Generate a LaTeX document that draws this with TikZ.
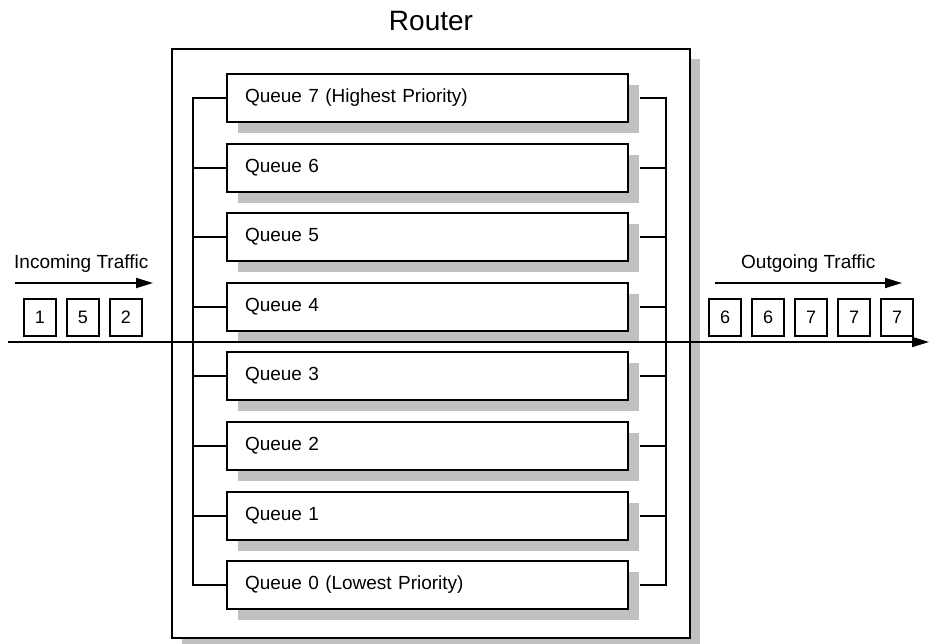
\documentclass[tikz,border=0pt]{standalone}
\usepackage{fontspec}
\setmainfont{Liberation Sans}
\usetikzlibrary{arrows.meta,shadows}
\definecolor{shgray}{HTML}{C0C0C0}
\begin{document}
\begin{tikzpicture}[x=1pt,y=-1pt,
  lw/.style={line width=1.8pt},
  qbox/.style={draw, lw, fill=white, minimum width=401pt, minimum height=48pt,
    text width=365pt, inner xsep=18pt, align=left, font=\fontsize{19}{22}\selectfont,
    drop shadow={shadow xshift=11pt, shadow yshift=-11pt, fill=shgray, opacity=1}},
  routerbox/.style={draw, line width=1.9pt, fill=white, minimum width=518pt, minimum height=589pt,
    inner sep=0pt, drop shadow={shadow xshift=10pt, shadow yshift=-10pt, fill=shgray, opacity=1}},
  tbox/.style={draw, line width=1.4pt, minimum width=32pt, minimum height=37pt, inner sep=0pt,
    font=\fontsize{18}{20}\selectfont},
  lbl/.style={inner sep=0pt, font=\fontsize{19}{22}\selectfont},
  arr/.style={line width=1.8pt, -{Triangle[length=17pt,width=10pt]}}
]
\useasboundingbox (0,0) rectangle (929,643);

% Router
\node[routerbox] (router) at (431,343.5) {};
\node[inner sep=0pt, anchor=base, font=\fontsize{28}{32}\selectfont] (title) at (431,30) {Router};

% Queues
\node[qbox] (q7) at (427.5,98) {Queue 7 (Highest Priority)};
\node[qbox] (q6) at (427.5,168) {Queue 6};
\node[qbox] (q5) at (427.5,237) {Queue 5};
\node[qbox] (q4) at (427.5,307) {Queue 4};
\node[qbox] (q3) at (427.5,376) {Queue 3};
\node[qbox] (q2) at (427.5,446) {Queue 2};
\node[qbox] (q1) at (427.5,516) {Queue 1};
\node[qbox] (q0) at (427.5,585) {Queue 0 (Lowest Priority)};

% Buses
\coordinate (lbus) at (193,0);
\coordinate (rbus) at (666,0);
\draw[lw] (q7.west -| lbus) -- (q0.west -| lbus);
\draw[lw] (q7.east -| rbus) -- (q0.east -| rbus);
\foreach \q in {q7,q6,q5,q4,q3,q2,q1,q0}{
  \draw[lw] ([xshift=-1pt]\q.west -| lbus) -- (\q.west);
  \draw[lw] ([xshift=11pt]\q.east) -- ([xshift=1pt]\q.east -| rbus);
}

% Incoming traffic
\node[lbl, anchor=base west] (intext) at (14,268) {Incoming Traffic};
\coordinate (ina) at (15,283);
\coordinate (inb) at (153,283);
\draw[arr] (ina) -- (inb);
\node[tbox] (i1) at (40,317.5) {1};
\node[tbox] (i2) at (83,317.5) {5};
\node[tbox] (i3) at (126,317.5) {2};

% Outgoing traffic
\node[lbl, anchor=base west] (outtext) at (741,268) {Outgoing Traffic};
\coordinate (outa) at (715,283);
\coordinate (outb) at (902,283);
\draw[arr] (outa) -- (outb);
\node[tbox] (o1) at (725,317.5) {6};
\node[tbox] (o2) at (768,317.5) {6};
\node[tbox] (o3) at (811,317.5) {7};
\node[tbox] (o4) at (854,317.5) {7};
\node[tbox] (o5) at (897,317.5) {7};

% Main traffic line
\coordinate (ma) at (8,342);
\coordinate (mb) at (929,342);
\draw[arr] (ma) -- (mb);
\end{tikzpicture}
\end{document}
